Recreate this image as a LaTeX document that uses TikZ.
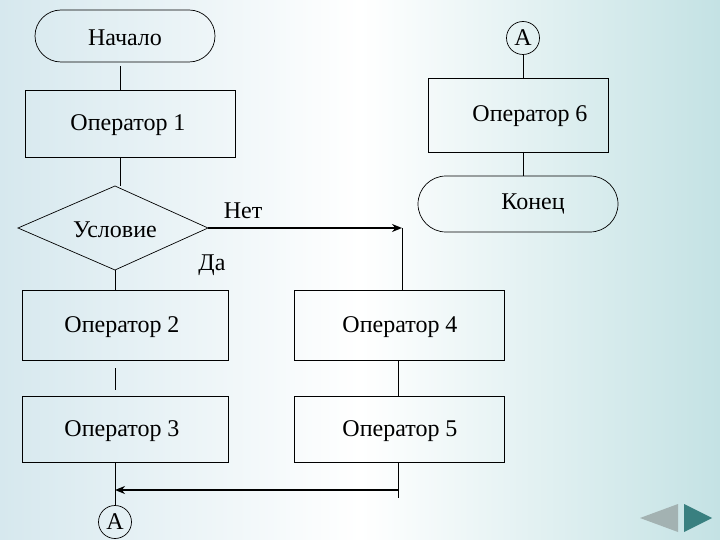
\documentclass[tikz,border=0pt]{standalone}
\usepackage{fontspec}
\setmainfont{Liberation Serif}
\usetikzlibrary{shapes.geometric,arrows.meta}
\begin{document}
\begin{tikzpicture}[x=1pt,y=-1pt,
  every node/.style={font=\fontsize{24}{28}\selectfont},
  box/.style={draw,fill=none,line width=0.7pt},
  ln/.style={line width=0.7pt},
  arr/.style={line width=1.8pt,-{Stealth[length=10pt,width=8pt]}}]
\useasboundingbox (0,0) rectangle (720,540);
\shade[left color={rgb,255:red,214;green,232;blue,238}, right color={rgb,255:red,196;green,226;blue,228}, middle color=white] (0,0) rectangle (720,540);
% start
\draw[box,rounded corners=26pt] (35,10) rectangle (215,62);
\node (start) at (125,38) {Начало};
\draw[ln] (120,66) -- (120,90);
\draw[box] (25,90) rectangle (235,157);
\node (op1) at (128,125) {Оператор 1};
\draw[ln] (120,157) -- (120,186);
% diamond
\draw[box] (115,186) -- (208,228) -- (115,270) -- (18,228) -- cycle;
\node (cond) at (115,230) {Условие};
\coordinate (dr) at (208,228);
\coordinate (ja) at (402,228);
\draw[arr] (dr) -- (ja);
\draw[ln] (ja) -- (402,290);
\node (no) at (243,211) {Нет};
\node (yes) at (212,265) {Да};
\draw[ln] (115,270) -- (115,290);
% op2, op3
\draw[box] (22,290) rectangle (228,360);
\node (op2) at (122,327) {Оператор 2};
\draw[ln] (115,368) -- (115,390);
\draw[box] (22,396) rectangle (228,462);
\node (op3) at (122,431) {Оператор 3};
% op4, op5
\draw[box] (294,290) rectangle (504,360);
\node (op4) at (400,327) {Оператор 4};
\draw[ln] (398,360) -- (398,396);
\draw[box] (294,396) rectangle (504,462);
\node (op5) at (400,431) {Оператор 5};
\coordinate (c5) at (398,490);
\coordinate (c3) at (115,490);
\draw[ln] (398,462) -- (398,498);
\draw[arr] (c5) -- (c3);
\draw[ln] (115,462) -- (115,506);
\node[draw,circle,inner sep=0pt,minimum size=33pt,line width=0.7pt] (a2) at (115,522) {А};
% right column
\node[draw,circle,inner sep=0pt,minimum size=33pt,line width=0.7pt] (a1) at (523,38) {А};
\draw[box] (428,78) rectangle (608,152);
\node (op6) at (530,116) {Оператор 6};
\draw[ln] (a1) -- (523,78);
\draw[ln] (523,152) -- (523,176);
\draw[box,rounded corners=28pt] (418,176) rectangle (618,232);
\node (end) at (533,204) {Конец};
% nav buttons
\fill[gray!80!teal!60] (640,518) -- (678,504) -- (678,532) -- cycle;
\fill[teal!55!gray] (684,504) -- (684,532) -- (712,518) -- cycle;
\end{tikzpicture}
\end{document}
